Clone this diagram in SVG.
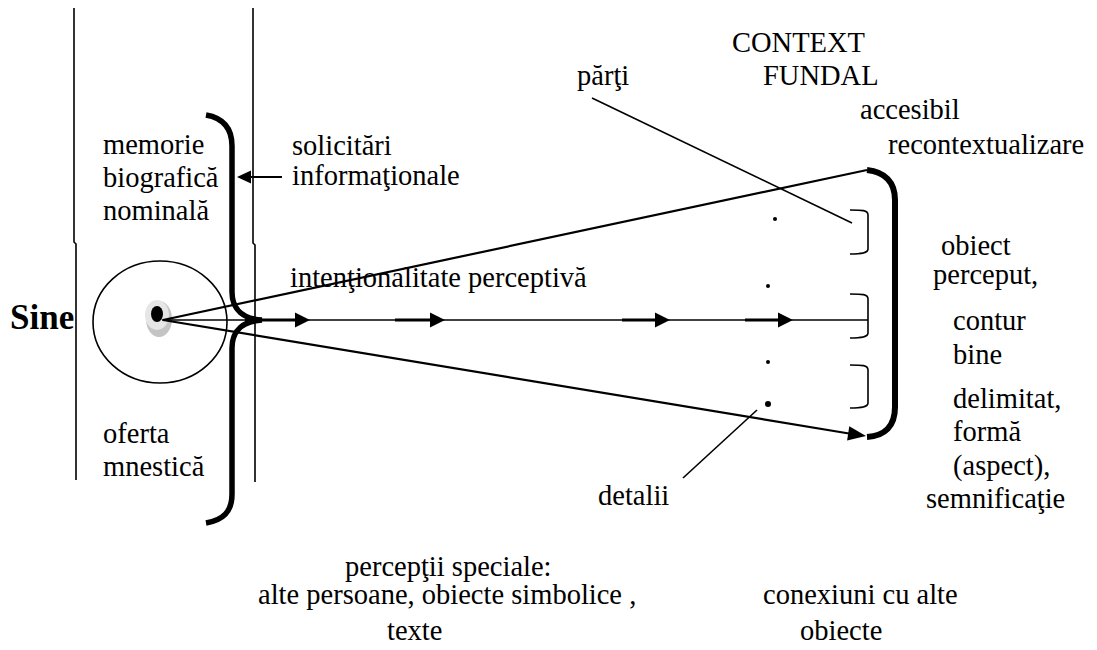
<svg xmlns="http://www.w3.org/2000/svg" width="1097" height="650" viewBox="0 0 1097 650">
<style>
text{font-size:28.5px;fill:#000}
.b{font-weight:bold;font-size:35px}
.thin{stroke:#000;stroke-width:1.6;fill:none}
.med{stroke:#000;stroke-width:2.2;fill:none}
.thick{stroke:#000;stroke-width:3.2;fill:none}
.brace{stroke:#000;stroke-width:5.5;fill:none;stroke-linecap:butt}
.sb{stroke:#000;stroke-width:1.6;fill:none}
.ah{fill:#000}
</style>
<rect width="1097" height="650" fill="#fff"/>
<g id="columns">
<polyline class="thin" points="74,8 74,242 76,244 76,480"/>
<polyline class="thin" points="253,8 253,243 255,245 255,482"/>
</g>
<g id="self" font-family="'Liberation Serif', 'DejaVu Serif', serif">
<ellipse class="thin" cx="160" cy="322" rx="67" ry="61"/>
<ellipse cx="159" cy="319" rx="13" ry="18" fill="#c4c4c4"/>
<ellipse cx="157" cy="315" rx="12" ry="15" fill="#e6e6e6"/>
<ellipse cx="157" cy="314" rx="6" ry="8" fill="#000"/>
<text class="b" x="10" y="329">Sine</text>
</g>
<g id="memory-brace">
<path class="brace" d="M206,115 C223,118 232,128 232,146 L232,292 C232,310 244,319 262,320 C244,321 232,330 232,348 L232,494 C232,512 223,520 206,523"/>
</g>
<g id="right-bracket">
<path class="brace" style="stroke-width:6" d="M867,170 C885,172 895,182 895,200 L895,407 C895,426 885,436 867,437"/>
<path class="sb" d="M850,210 C862,210 868,210 868,215 L868,249 C868,253 862,254 850,254"/>
<path class="sb" d="M850,294 C862,294 868,294 868,299 L868,333 C868,337 862,338 850,338"/>
<path class="sb" d="M850,365 C862,365 868,365 868,370 L868,403 C868,407 862,408 850,408"/>
<circle cx="775" cy="219" r="2"/>
<circle cx="768" cy="286" r="2"/>
<circle cx="768" cy="362" r="2"/>
<circle cx="768" cy="404" r="3"/>
</g>
<g id="connectors">
<line class="thin" x1="162" y1="320" x2="868" y2="320"/>
<line class="thick" x1="245" y1="320" x2="300" y2="320"/>
<line class="thick" x1="395" y1="320" x2="435" y2="320"/>
<line class="thick" x1="622" y1="320" x2="660" y2="320"/>
<line class="thick" x1="745" y1="320" x2="783" y2="320"/>
<polygon class="ah" points="310,320 295,312.5 295,327.5"/>
<polygon class="ah" points="445,320 430,312.5 430,327.5"/>
<polygon class="ah" points="670,320 655,312.5 655,327.5"/>
<polygon class="ah" points="793,320 778,312.5 778,327.5"/>
<line class="med" x1="163" y1="320" x2="867" y2="170"/>
<line class="med" x1="163" y1="320" x2="852" y2="434"/>
<polygon class="ah" points="866,436 849.3,426.3 847.1,440.6"/>
<line class="med" x1="282" y1="177" x2="246" y2="177"/>
<polygon class="ah" points="237,177 251,170.5 251,183.5"/>
<line class="thin" x1="592" y1="98" x2="852" y2="223"/>
<line class="thin" x1="683" y1="478" x2="757" y2="410"/>
</g>
<g id="labels" font-family="'Liberation Serif', 'DejaVu Serif', serif">
<text x="732" y="52">CONTEXT</text>
<text x="763" y="85">FUNDAL</text>
<text x="860" y="119">accesibil</text>
<text x="888" y="154">recontextualizare</text>
<text x="577" y="85">părţi</text>
<text x="103" y="154">memorie</text>
<text x="103" y="187">biografică</text>
<text x="103" y="220">nominală</text>
<text x="292" y="155">solicitări</text>
<text x="292" y="185">informaţionale</text>
<text x="290" y="287">intenţionalitate perceptivă</text>
<text x="103" y="443">oferta</text>
<text x="103" y="476">mnestică</text>
<text x="598" y="505">detalii</text>
<text x="941" y="255">obiect</text>
<text x="933" y="284">perceput,</text>
<text x="953" y="330">contur</text>
<text x="953" y="364">bine</text>
<text x="953" y="408">delimitat,</text>
<text x="953" y="441">formă</text>
<text x="953" y="475">(aspect),</text>
<text x="926" y="508">semnificaţie</text>
<text x="345" y="576">percepţii speciale:</text>
<text x="258" y="604">alte persoane, obiecte simbolice ,</text>
<text x="387" y="640">texte</text>
<text x="763" y="604">conexiuni cu alte</text>
<text x="800" y="640">obiecte</text>
</g>
</svg>
